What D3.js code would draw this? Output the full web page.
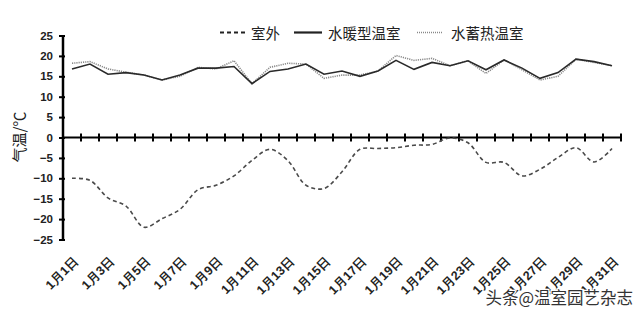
<!DOCTYPE html>
<html><head><meta charset="utf-8">
<script src="https://cdn.jsdelivr.net/npm/d3@7"></script>
<style>
body{margin:0;background:#fff;}
svg{display:block;font-family:"Liberation Sans","DejaVu Sans",sans-serif;}
</style></head>
<body><svg id="c" width="640" height="313"></svg>
<script>
const days = d3.range(1,32).map(d => "1月" + d + "日");
const outdoor = [-10.0,-10.5,-14.8,-16.8,-22.0,-19.9,-17.6,-12.8,-11.7,-9.4,-5.6,-2.9,-5.7,-11.7,-12.5,-8.4,-2.9,-2.7,-2.5,-1.9,-1.7,-0.1,-1.3,-6.1,-6.1,-9.4,-7.8,-4.9,-2.5,-6.0,-2.7];
const waterHeating = [16.8,18.0,15.5,15.9,15.3,14.1,15.3,17.0,17.0,17.4,13.2,16.2,16.8,18.0,15.5,16.3,15.0,16.3,18.9,16.7,18.4,17.6,18.8,16.6,19.0,17.0,14.5,15.9,19.2,18.6,17.6];
const heatStorage = [18.2,18.6,16.8,16.0,15.3,14.1,15.0,17.2,16.8,18.8,13.2,17.2,18.2,18.0,14.5,15.3,15.3,16.3,20.1,18.9,19.4,17.6,18.8,15.7,19.0,16.6,14.1,15.0,19.2,18.4,17.6];
const yTicks = [25,20,15,10,5,0,-5,-10,-15,-20,-25];
const labelDays = days.filter((d,i) => i % 2 === 0);
const legendNames = ["室外","水暖型温室","水蓄热温室"];

const svg = d3.select("#c");
const x = d3.scaleBand().domain(days).range([63, 621]).paddingInner(0).paddingOuter(0);
const y = d3.scaleLinear().domain([-25,25]).range([239.5, 35.5]);
const cx = d => x(d) + x.bandwidth()/2;

// Y axis
const yAxis = svg.append("g").attr("transform","translate(63,0)")
  .call(d3.axisLeft(y).tickValues(yTicks).tickSize(4).tickPadding(6));
yAxis.select(".domain").attr("stroke","#000").attr("stroke-width",2.5).attr("d","M0,35.5V239.5");
yAxis.selectAll(".tick line").attr("stroke","#000").attr("stroke-width",2).attr("x1",2);
yAxis.selectAll(".tick text").attr("font-size",11.5).attr("font-weight","bold").attr("fill","#222")
  .attr("font-family","Liberation Sans, sans-serif");

// X axis at zero with boundary ticks
const zeroY = y(0);
svg.append("line").attr("x1",63).attr("x2",621).attr("y1",zeroY).attr("y2",zeroY)
  .attr("stroke","#000").attr("stroke-width",2);
const bounds = days.map(d => x(d) + x.bandwidth());
svg.append("g").selectAll("line").data(bounds).join("line")
  .attr("x1",d=>d).attr("x2",d=>d).attr("y1",zeroY-4).attr("y2",zeroY+4)
  .attr("stroke","#000").attr("stroke-width",2);

// X labels at bottom
svg.append("g").selectAll("text").data(labelDays).join("text")
  .attr("transform", d => `translate(${cx(d)+7},${262}) rotate(-45)`)
  .attr("text-anchor","end")
  .attr("font-size",12.5).attr("font-weight","bold").attr("fill","#222")
  .text(d=>d);

// Y title
svg.append("text").attr("transform","translate(25,137) rotate(-90)")
  .attr("text-anchor","middle").attr("font-size",15).attr("fill","#222")
  .attr("font-family","Noto Sans CJK SC, sans-serif")
  .text("气温/℃");

// Lines
const lineStraight = d3.line().x((v,i)=>cx(days[i])).y(v=>y(v));
const lineSmooth = d3.line().x((v,i)=>cx(days[i])).y(v=>y(v)).curve(d3.curveCatmullRom.alpha(0.5));

svg.append("path").attr("d", lineSmooth(outdoor)).attr("fill","none")
  .attr("stroke","#4a4a4a").attr("stroke-width",1.6).attr("stroke-dasharray","4,3");
svg.append("path").attr("d", lineStraight(heatStorage)).attr("fill","none")
  .attr("stroke","#8a8a8a").attr("stroke-width",1.6).attr("stroke-dasharray","1.2,1");
svg.append("path").attr("d", lineStraight(waterHeating)).attr("fill","none")
  .attr("stroke","#2a2a2a").attr("stroke-width",1.6);

// Legend
const lg = svg.append("g").attr("font-family","Noto Sans CJK SC, sans-serif");
const items = [
  {name:legendNames[0], x0:220, x1:247, tx:251, stroke:"#222", dash:"4,3", w:1.8},
  {name:legendNames[1], x0:294, x1:322, tx:328, stroke:"#222", dash:null, w:2.2},
  {name:legendNames[2], x0:417, x1:443, tx:451, stroke:"#888", dash:"1,1", w:1.5}
];
items.forEach(it => {
  lg.append("line").attr("x1",it.x0).attr("x2",it.x1).attr("y1",32.5).attr("y2",32.5)
    .attr("stroke",it.stroke).attr("stroke-width",it.w).attr("stroke-dasharray",it.dash);
  lg.append("text").attr("x",it.tx).attr("y",38.5).attr("font-size",14.5).attr("fill","#222").text(it.name);
});

// Watermark
svg.append("text").attr("x",633).attr("y",304).attr("text-anchor","end")
  .attr("font-family","Noto Sans CJK SC, sans-serif").attr("font-size",16.5)
  .attr("fill","#333").attr("stroke","#fff").attr("stroke-width",2.5).attr("paint-order","stroke")
  .text("头条@温室园艺杂志");
</script>
</body></html>
